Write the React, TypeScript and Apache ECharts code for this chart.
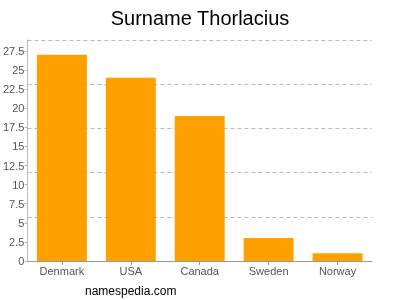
import React, { useEffect, useRef } from "react";
import * as echarts from "echarts";

const categories = ["Denmark", "USA", "Canada", "Sweden", "Norway"];
const values = [27, 24, 19, 3, 1];
const axisMax = 28.94;
const tickStep = 2.5;
const gridLines = 5;

export default function App() {
  const ref = useRef<HTMLDivElement>(null);
  useEffect(() => {
    if (!ref.current) return;
    const chart = echarts.init(ref.current, undefined, { renderer: "svg" });
    const font = "Liberation Sans, Arial, Helvetica, sans-serif";
    chart.setOption({
      animation: false,
      title: {
        text: "Surname Thorlacius",
        left: "center",
        top: 3,
        textStyle: { fontSize: 20, fontWeight: "normal", color: "#000", fontFamily: font },
      },
      grid: { left: 27, right: 28, top: 40, bottom: 39, containLabel: false },
      xAxis: {
        type: "category",
        data: categories,
        axisLine: { lineStyle: { color: "#999" } },
        axisTick: { show: true, alignWithLabel: true, length: 4, lineStyle: { color: "#999" } },
        axisLabel: { color: "#555", fontSize: 11, fontFamily: font, margin: 4 },
      },
      yAxis: [
        {
          type: "value",
          min: 0,
          max: axisMax,
          interval: tickStep,
          axisLine: { show: true, lineStyle: { color: "#bbb" } },
          axisTick: { show: true, length: 3, lineStyle: { color: "#bbb" } },
          axisLabel: {
            color: "#555",
            fontSize: 11,
            fontFamily: font,
            margin: 3,
            showMaxLabel: false,
            formatter: (v: number) => (Math.abs(v / tickStep - Math.round(v / tickStep)) < 1e-6 ? String(v) : ""),
          },
          splitLine: { show: false },
        },
        {
          type: "value",
          min: 0,
          max: axisMax,
          interval: axisMax / gridLines,
          position: "left",
          axisLine: { show: false },
          axisTick: { show: false },
          axisLabel: { show: false },
          splitLine: { show: true, lineStyle: { color: "#bbb", type: [4, 3], width: 1 } },
        },
      ],
      series: [
        {
          type: "bar",
          data: values,
          yAxisIndex: 0,
          barWidth: "72.5%",
          itemStyle: { color: "#ffa000" },
        },
      ],
      graphic: [
        {
          type: "text",
          left: 85,
          top: 285,
          style: { text: "namespedia.com", fontSize: 12, fill: "#000", fontFamily: font },
        },
      ],
    });
    return () => chart.dispose();
  }, []);
  return <div ref={ref} style={{ position: "fixed", left: 0, top: 0, width: 400, height: 300 }} />;
}
